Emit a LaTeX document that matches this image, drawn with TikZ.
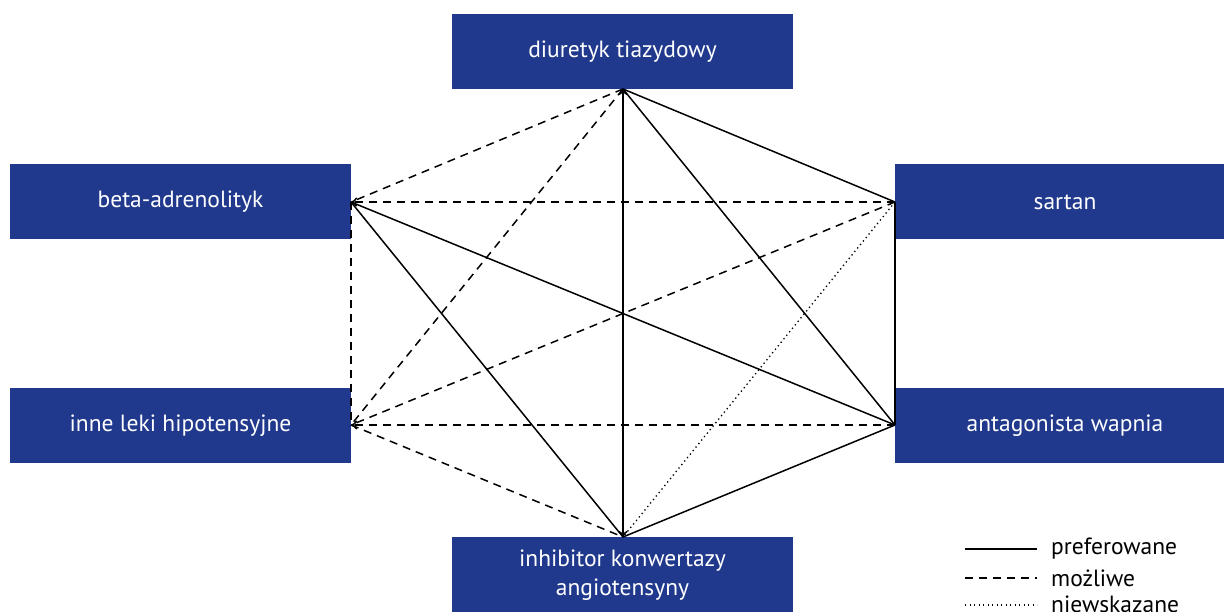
\documentclass[tikz,border=0pt]{standalone}
\usepackage{fontspec}
\setmainfont{PT Sans}
\usetikzlibrary{arrows.meta}
\definecolor{boxblue}{RGB}{32,57,140}
\tikzset{
  box/.style={fill=boxblue, draw=none, text=white, font=\fontsize{23.5}{29}\selectfont, align=center, inner sep=0pt},
  edge/.style={line width=1.5pt, black},
  pref/.style={edge},
  poss/.style={edge, dash pattern=on 8pt off 6pt},
  notrec/.style={edge, line width=1.3pt, dash pattern=on 1.3pt off 3.2pt},
  tip/.style={-{To[length=6pt,width=9pt]}},
  legtext/.style={font=\fontsize{23.5}{29}\selectfont, anchor=west, inner sep=0pt}
}
\begin{document}
\begin{tikzpicture}[x=1pt,y=-1pt]
\useasboundingbox (0,0) rectangle (1224,612);
\clip (0,0) rectangle (1224,612);
% boxes
\fill[boxblue] (452,14) rectangle (793,89);
\node[box] (dt) at (622.5,52) {diuretyk tiazydowy};
\fill[boxblue] (10,164) rectangle (351,239);
\node[box] (bt) at (180.5,202) {beta-adrenolityk};
\fill[boxblue] (895,164) rectangle (1224,239);
\node[box] (st) at (1065,202) {sartan};
\fill[boxblue] (10,388) rectangle (351,463);
\node[box] (it) at (180.5,426) {inne leki hipotensyjne};
\fill[boxblue] (895,388) rectangle (1224,463);
\node[box] (at) at (1065,426) {antagonista wapnia};
\fill[boxblue] (452,537) rectangle (793,612);
\node[box] (kt) at (622.5,575) {inhibitor konwertazy\\angiotensyny};
% anchor points
\coordinate (D) at (623,89);
\coordinate (B) at (351,202);
\coordinate (S) at (895,202);
\coordinate (I) at (351,425);
\coordinate (A) at (895,425);
\coordinate (K) at (623,537);
% edges
\draw[poss] (D) -- (B);
\draw[pref] (D) -- (S);
\draw[pref] (D) -- (A);
\draw[pref,{To[length=6pt,width=9pt]}-{To[length=6pt,width=9pt]}] (K) -- (D);
\draw[poss] (D) -- (I);
\draw[poss,tip] (S) -- (B);
\draw[poss] (B) -- (I);
\draw[pref] (B) -- (A);
\draw[pref] (B) -- (K);
\draw[pref] (S) -- (A);
\draw[poss] (S) -- (I);
\draw[notrec] (S) -- (K);
\draw[poss,tip] (A) -- (I);
\draw[poss] (I) -- (K);
\draw[pref] (A) -- (K);
% legend
\coordinate (l1a) at (965,549); \coordinate (l1b) at (1037,549);
\coordinate (l2a) at (965,578); \coordinate (l2b) at (1037,578);
\coordinate (l3a) at (965,605); \coordinate (l3b) at (1037,605);
\draw[pref] (l1a) -- (l1b);
\draw[poss] (l2a) -- (l2b);
\draw[notrec] (l3a) -- (l3b);
\node[legtext] (lt1) at (1051,549) {preferowane};
\node[legtext] (lt2) at (1051,578) {możliwe};
\node[legtext] (lt3) at (1051,604) {niewskazane};
\end{tikzpicture}
\end{document}
